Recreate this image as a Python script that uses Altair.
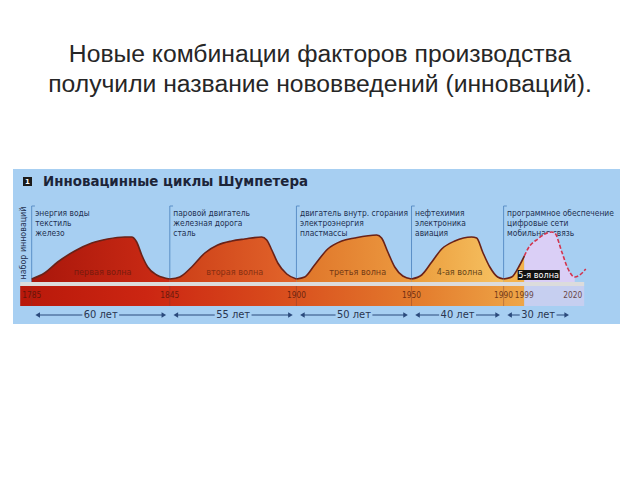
import altair as alt
import pandas as pd

# ---------------- data ----------------
title_lines = ["Новые комбинации факторов производства",
               "получили название нововведений (инноваций)."]
header_text = "Инновацинные циклы Шумпетера"
y_label = "набор инноваций"

start_years = [1785, 1845, 1900, 1950, 1990]
end_years = [1845, 1900, 1950, 1990, 2020]
durations = ["60 лет", "55 лет", "50 лет", "40 лет", "30 лет"]
tick_years = [1785, 1845, 1900, 1950, 1990, 1999, 2020]

annotations = [
    ["энергия воды", "текстиль", "железо"],
    ["паровой двигатель", "железная дорога", "сталь"],
    ["двигатель внутр. сгорания", "электроэнергия", "пластмассы"],
    ["нефтехимия", "электроника", "авиация"],
    ["программное обеспечение", "цифровые сети", "мобильная связь"],
]

wave_names = ["первая волна", "вторая волна", "третья волна", "4-ая волна"]
wave_label_years = [1815.8, 1873.2, 1926.6, 1970.9]
wave5_name = "5-я волна"
wave5_label_year = 2005.2

wave1_years = [1785, 1790.6, 1796.3, 1803.7, 1811.1, 1818.0, 1825.4, 1828.4, 1830.6, 1832.8, 1835.4, 1839.3, 1842.8, 1845]
wave1_vals = [3, 9, 20, 31, 39, 43, 45, 45, 40, 27, 15, 7, 4, 3]
wave2_years = [1845, 1849.3, 1854.5, 1860.2, 1865.8, 1871.9, 1877.5, 1884.9, 1887.1, 1889.3, 1891.9, 1895.8, 1900]
wave2_vals = [3, 5, 15, 29, 37, 41, 43, 45, 42, 32, 19, 8, 3]
wave3_years = [1900, 1903.6, 1907.9, 1913.6, 1919.7, 1925.3, 1934.9, 1937.0, 1939.7, 1942.7, 1946.2, 1950]
wave3_vals = [3, 5, 17, 33, 41, 44, 47, 44, 30, 15, 6, 3]
wave4_years = [1950, 1954.4, 1958.8, 1963.1, 1968.8, 1976.1, 1978.3, 1980.9, 1984.0, 1987.4, 1990]
wave4_vals = [3, 7, 20, 33, 41, 45, 44, 30, 15, 5, 3]
wave5_years = [1990, 1993.5, 1997, 1999, 2000.5, 2004.8, 2010.9, 2012.2, 2015.3, 2017.8, 2020.9, 2023.1, 2025.7]
wave5_vals = [3, 5, 17, 26, 33, 43, 50, 49, 30, 14, 5, 7, 13]

bar_start, bar_split, bar_end = 1780, 1999, 2025

# ---------------- layout / styles ----------------
PX_PER_YEAR = 2.302
ORIGIN_PX = 31.7
X0 = 1785 - ORIGIN_PX / PX_PER_YEAR
X1 = X0 + 640 / PX_PER_YEAR
BASE_PX = 282
Y0, Y1 = BASE_PX - 480, BASE_PX

NARROW = "Liberation Sans Narrow, Arial Narrow, DejaVu Sans Condensed, sans-serif"
PANEL = "#a7cff2"
OUTLINE = "#6a2218"
TXT = "#1e3050"


def xq(f="year"):
    return alt.X(f"{f}:Q", scale=alt.Scale(domain=[X0, X1]), axis=None)


def yq(f="v"):
    return alt.Y(f"{f}:Q", scale=alt.Scale(domain=[Y0, Y1]), axis=None)


def grad(c1, c2):
    return alt.LinearGradient(gradient="linear",
                              stops=[alt.GradientStop(offset=0, color=c1),
                                     alt.GradientStop(offset=1, color=c2)],
                              x1=0, x2=1, y1=0, y2=0)


one = pd.DataFrame({"a": [0]})
layers = []

# panel background
layers.append(alt.Chart(one).mark_rect(color=PANEL).encode(
    x=alt.value(13), x2=alt.value(620), y=alt.value(169), y2=alt.value(324)))

# slide title
for i, line in enumerate(title_lines):
    layers.append(alt.Chart(pd.DataFrame({"t": [line]})).mark_text(
        font="Liberation Sans", fontSize=24.7, color="#262626", baseline="middle", align="center"
    ).encode(x=alt.value(320), y=alt.value(55 + 30 * i), text="t:N"))

# header
layers.append(alt.Chart(one).mark_rect(color="#1b1b1b").encode(
    x=alt.value(23), x2=alt.value(32), y=alt.value(177), y2=alt.value(186)))
layers.append(alt.Chart(pd.DataFrame({"t": ["1"]})).mark_text(
    font="DejaVu Sans", fontSize=7, fontWeight="bold", color="white", baseline="middle"
).encode(x=alt.value(27.5), y=alt.value(181.5), text="t:N"))
layers.append(alt.Chart(pd.DataFrame({"t": [header_text]})).mark_text(
    font="DejaVu Sans", fontSize=13.4, fontWeight="bold", color="#1c2438",
    baseline="middle", align="left"
).encode(x=alt.value(43), y=alt.value(182), text="t:N"))

# y label
layers.append(alt.Chart(pd.DataFrame({"t": [y_label]})).mark_text(
    font=NARROW, fontSize=8.8, color=TXT, angle=270, baseline="middle", align="center"
).encode(x=alt.value(23), y=alt.value(243), text="t:N"))

# timeline strip and bar
strip = pd.DataFrame({"year": [bar_start], "end": [bar_end], "v": [0], "v2": [-4]})
layers.append(alt.Chart(strip).mark_rect(color="#dcdcdc").encode(
    x=xq(), x2=alt.X2("end:Q"), y=yq(), y2=alt.Y2("v2:Q")))
bar1 = pd.DataFrame({"year": [bar_start], "end": [bar_split], "v": [-4], "v2": [-24]})
bar_grad = alt.LinearGradient(gradient="linear", x1=0, x2=1, y1=0, y2=0, stops=[
    alt.GradientStop(offset=0, color="#b8180a"),
    alt.GradientStop(offset=0.25, color="#cc2612"),
    alt.GradientStop(offset=0.5, color="#d84a1c"),
    alt.GradientStop(offset=0.8, color="#e47e2e"),
    alt.GradientStop(offset=1, color="#eea648")])
layers.append(alt.Chart(bar1).mark_rect(color=bar_grad).encode(
    x=xq(), x2=alt.X2("end:Q"), y=yq(), y2=alt.Y2("v2:Q")))
bar2 = pd.DataFrame({"year": [bar_split], "end": [bar_end], "v": [-4], "v2": [-24]})
layers.append(alt.Chart(bar2).mark_rect(color="#c6cff0").encode(
    x=xq(), x2=alt.X2("end:Q"), y=yq(), y2=alt.Y2("v2:Q")))

# faint separators inside the bar
sep = pd.DataFrame({"year": start_years, "v": [-4] * 5, "v2": [-24] * 5})
layers.append(alt.Chart(sep).mark_rule(color="#7a3a30", strokeWidth=0.8, opacity=0.5).encode(
    x=xq(), y=yq(), y2=alt.Y2("v2:Q")))

# year labels in the bar
layers.append(alt.Chart(pd.DataFrame({"year": tick_years, "v": [-14] * len(tick_years),
                                      "t": [str(y) for y in tick_years]})).mark_text(
    font=NARROW, fontSize=8.3, color="#4a140a", opacity=0.75, baseline="middle"
).encode(x=xq(), y=yq(), text="t:N"))

# boundary lines with bracket tick
bl = pd.DataFrame({"year": start_years, "v": [76] * 5, "v2": [0] * 5})
layers.append(alt.Chart(bl).mark_rule(color="#5b8fc7", strokeWidth=1).encode(
    x=xq(), y=yq(), y2=alt.Y2("v2:Q")))
bt = pd.DataFrame({"year": start_years, "end": [y + 1.4 for y in start_years], "v": [76] * 5})
layers.append(alt.Chart(bt).mark_rule(color="#5b8fc7", strokeWidth=1).encode(
    x=xq(), x2=alt.X2("end:Q"), y=yq()))

# annotation texts
rows = []
for y, lines in zip(start_years, annotations):
    for i, t in enumerate(lines):
        rows.append({"year": y, "v": 69 - 10 * i, "t": t})
layers.append(alt.Chart(pd.DataFrame(rows)).mark_text(
    font=NARROW, fontSize=8.4, color=TXT, align="left", baseline="middle", dx=3.5
).encode(x=xq(), y=yq(), text="t:N"))

# waves
wave_specs = [
    (wave1_years, wave1_vals, grad("#a9160b", "#cc2c15")),
    (wave2_years, wave2_vals, grad("#cc3e17", "#e2652b")),
    (wave3_years, wave3_vals, grad("#df7429", "#ec9a40")),
    (wave4_years, wave4_vals, grad("#eb9c3c", "#f6c262")),
]
for ys, vs, g in wave_specs:
    df = pd.DataFrame({"year": ys, "v": vs, "base": [0] * len(ys)})
    layers.append(alt.Chart(df).mark_area(interpolate="monotone", color=g).encode(
        x=xq(), y=yq(), y2=alt.Y2("base:Q")))
    layers.append(alt.Chart(df).mark_line(interpolate="monotone", color=OUTLINE, strokeWidth=1.6).encode(
        x=xq(), y=yq()))

w5 = pd.DataFrame({"year": wave5_years, "v": wave5_vals, "base": [0] * len(wave5_years)})
w5a = w5[w5.year <= 1999]
w5b = w5[(w5.year >= 1999) & (w5.year <= 2021)]
w5c = w5[w5.year >= 1999]
layers.append(alt.Chart(w5a).mark_area(interpolate="monotone", color="#f3b24c").encode(
    x=xq(), y=yq(), y2=alt.Y2("base:Q")))
layers.append(alt.Chart(w5b).mark_area(interpolate="monotone", color="#dacff6").encode(
    x=xq(), y=yq(), y2=alt.Y2("base:Q")))
layers.append(alt.Chart(w5a).mark_line(interpolate="monotone", color=OUTLINE, strokeWidth=1.6).encode(
    x=xq(), y=yq()))
layers.append(alt.Chart(w5c).mark_line(interpolate="monotone", color="#d3344e", strokeWidth=1.6,
                                       strokeDash=[4, 2]).encode(x=xq(), y=yq()))

# wave labels
wl = pd.DataFrame({"year": wave_label_years, "v": [10] * 4, "t": wave_names,
                   "c": ["#6e1a0e", "#7a2a10", "#5e2c10", "#4d3210"]})
layers.append(alt.Chart(wl).mark_text(font=NARROW, fontSize=9, baseline="middle", opacity=0.85).encode(
    x=xq(), y=yq(), text="t:N", color=alt.Color("c:N", scale=None)))
box = pd.DataFrame({"year": [1996.1], "end": [2014.4], "v": [12], "v2": [2]})
layers.append(alt.Chart(box).mark_rect(color="#111111").encode(
    x=xq(), x2=alt.X2("end:Q"), y=yq(), y2=alt.Y2("v2:Q")))
layers.append(alt.Chart(pd.DataFrame({"year": [wave5_label_year], "v": [7], "t": [wave5_name]})).mark_text(
    font=NARROW, fontSize=9, color="white", baseline="middle").encode(x=xq(), y=yq(), text="t:N"))

# duration arrows
GAP = 8.0
INSET = 2.6
segs, heads_l, heads_r, labs = [], [], [], []
for s, e, d in zip(start_years, end_years, durations):
    mid = (s + e) / 2
    segs.append({"year": s + INSET, "end": mid - GAP, "v": -33})
    segs.append({"year": mid + GAP, "end": e - INSET, "v": -33})
    heads_l.append({"year": s + INSET, "v": -33})
    heads_r.append({"year": e - INSET, "v": -33})
    labs.append({"year": mid, "v": -33, "t": d})
ARROW = "#2b4a7c"
layers.append(alt.Chart(pd.DataFrame(segs)).mark_rule(color=ARROW, strokeWidth=1).encode(
    x=xq(), x2=alt.X2("end:Q"), y=yq()))
layers.append(alt.Chart(pd.DataFrame(heads_l)).mark_point(shape="triangle-left", filled=True, size=28,
                                                          color=ARROW, opacity=1).encode(x=xq(), y=yq()))
layers.append(alt.Chart(pd.DataFrame(heads_r)).mark_point(shape="triangle-right", filled=True, size=28,
                                                          color=ARROW, opacity=1).encode(x=xq(), y=yq()))
layers.append(alt.Chart(pd.DataFrame(labs)).mark_text(font=NARROW, fontSize=11, color="#2a3550",
                                                      baseline="middle").encode(x=xq(), y=yq(), text="t:N"))

chart = alt.layer(*layers).properties(
    width=640, height=480, padding=0, autosize=alt.AutoSizeParams(type="none"),
    background="white"
).configure_view(stroke=None)

chart.save("out.html", embed_options={"renderer": "svg", "actions": False})
